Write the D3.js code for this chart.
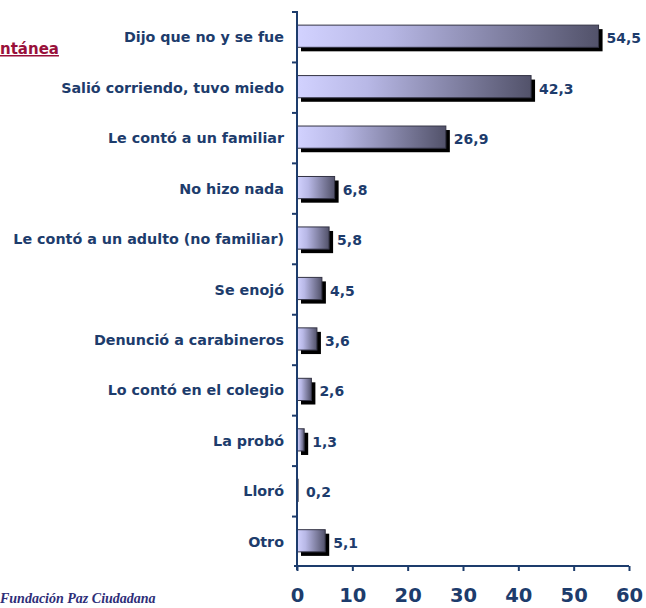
<!DOCTYPE html>
<html><head><meta charset="utf-8">
<script src="https://cdn.jsdelivr.net/npm/d3@7"></script>
<style>body{margin:0;background:#fff}svg{display:block}</style>
</head><body><svg id="c" width="646" height="608"></svg>
<script>
const categories = ["Dijo que no y se fue","Salió corriendo, tuvo miedo","Le contó a un familiar","No hizo nada","Le contó a un adulto (no familiar)","Se enojó","Denunció a carabineros","Lo contó en el colegio","La probó","Lloró","Otro"];
const values = [54.5,42.3,26.9,6.8,5.8,4.5,3.6,2.6,1.3,0.2,5.1];
const valueLabels = ["54,5","42,3","26,9","6,8","5,8","4,5","3,6","2,6","1,3","0,2","5,1"];
const xTicks = [0,10,20,30,40,50,60];

const svg = d3.select("#c");
const navy = "#1d3c6c";
const x = d3.scaleLinear().domain([0,60]).range([297,629]);
const y = d3.scaleBand().domain(categories).range([12,565]).paddingInner(0.56).paddingOuter(0.26);

const defs = svg.append("defs");
const g = defs.append("linearGradient").attr("id","gr").attr("x1","0").attr("x2","1").attr("y1","0").attr("y2","0");
g.append("stop").attr("offset","0").attr("stop-color","#d2d2ff");
g.append("stop").attr("offset","0.3").attr("stop-color","#b8b8e6");
g.append("stop").attr("offset","1").attr("stop-color","#52526a");

const bh = y.bandwidth();
// shadows
svg.append("g").selectAll("rect").data(values).join("rect")
  .attr("x", x(0)+4).attr("y",(d,i)=>y(categories[i])+4)
  .attr("width", d=>d<1?0:Math.max(0,x(d)-x(0))).attr("height", bh)
  .attr("fill","#000");
svg.append("g").selectAll("rect").data(values).join("rect")
  .attr("x", x(0)).attr("y",(d,i)=>y(categories[i]))
  .attr("width", d=>Math.max(0,x(d)-x(0))).attr("height", bh)
  .attr("fill","url(#gr)").attr("stroke","#333344").attr("stroke-width",1);

// value labels
svg.append("g").selectAll("text").data(values).join("text")
  .attr("x", d=>x(d)+8).attr("y",(d,i)=>y(categories[i])+bh/2+7)
  .text((d,i)=>valueLabels[i])
  .attr("font-family","DejaVu Sans").attr("font-weight","bold").attr("font-size",14).attr("fill",navy);

// y axis
const yAx = svg.append("g").attr("transform",`translate(${x(0)},0)`);
yAx.append("line").attr("x1",0).attr("x2",0).attr("y1",11).attr("y2",570).attr("stroke",navy).attr("stroke-width",2);
const step = y.step();
const bounds = d3.range(categories.length).map(i=>12+i*step);
yAx.selectAll("line.t").data(bounds).join("line").attr("class","t")
  .attr("x1",-5).attr("x2",0).attr("y1",d=>d).attr("y2",d=>d).attr("stroke",navy).attr("stroke-width",2);
svg.append("g").selectAll("text").data(categories).join("text")
  .attr("x",284).attr("y",d=>y(d)+bh/2+6).attr("text-anchor","end")
  .text(d=>d).attr("font-family","DejaVu Sans").attr("font-weight","bold").attr("font-size",14.3).attr("fill",navy);

// x axis
const xAx = svg.append("g").attr("transform","translate(0,566)")
  .call(d3.axisBottom(x).tickValues(xTicks).tickSize(5).tickPadding(17).tickFormat(d3.format("d")));
xAx.select(".domain").attr("stroke",navy).attr("stroke-width",2).attr("d",`M${x(0)-3},0H${x(60)}`);
xAx.selectAll(".tick line").attr("stroke",navy).attr("stroke-width",2);
xAx.selectAll("text").attr("font-family","DejaVu Sans").attr("font-weight","bold").attr("font-size",19.5).attr("fill",navy);

// cut-off title and source
svg.append("text").attr("x",0).attr("y",54).text("ntánea")
  .attr("font-family","DejaVu Sans").attr("font-weight","bold").attr("font-size",15).attr("fill","#99103a")
  .attr("text-decoration","underline");
svg.append("text").attr("x",0).attr("y",603).text("Fundación Paz Ciudadana")
  .attr("font-family","Liberation Serif").attr("font-style","italic").attr("font-weight","bold").attr("font-size",14).attr("fill","#2e2e78");
</script></body></html>
